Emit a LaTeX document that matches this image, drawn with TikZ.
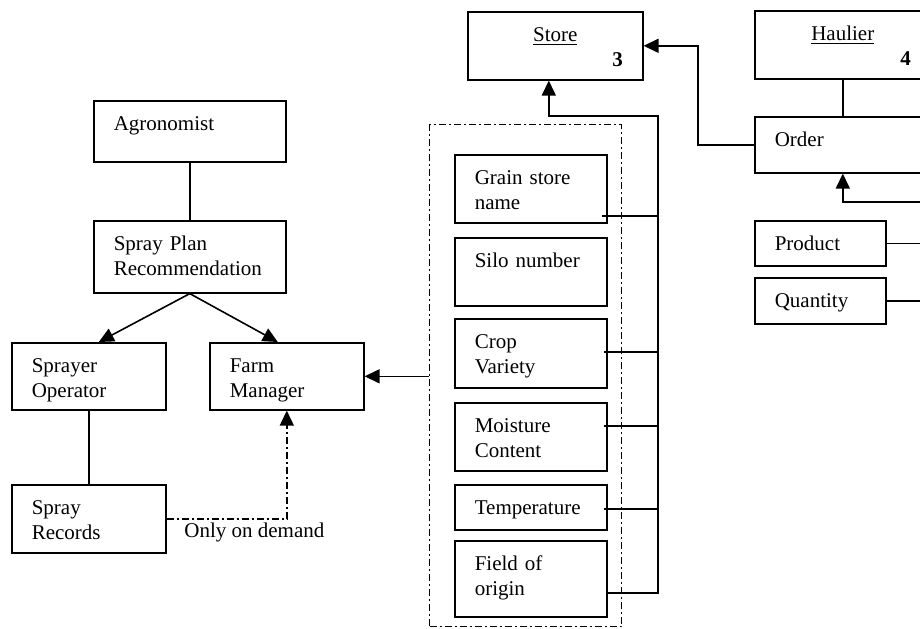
\documentclass[tikz,border=0pt]{standalone}
\usepackage{fontspec}
\setmainfont{Liberation Serif}
\usetikzlibrary{arrows.meta}

\tikzset{
  box/.style={draw, line width=0.8pt, anchor=north west, align=left,
    inner xsep=10pt, inner ysep=7.5pt, text height=7.2pt, text depth=#1},
  box/.default=11.8pt,
  attr/.style={box=#1, text width=56pt},
  attr/.default=11.8pt,
  link/.style={line width=0.8pt},
  dashdot/.style={line width=0.7pt, dash pattern=on 3.5pt off 1.5pt on 1pt off 1.5pt},
  group/.style={draw, dashdot, anchor=north west, inner sep=0pt},
}

\begin{document}
\begin{tikzpicture}[x=0.5pt, y=-0.5pt, font=\fontsize{10.5pt}{12.5pt}\selectfont,
    >={Triangle[length=7.5pt,width=7pt]}]
  \useasboundingbox (0,0) rectangle (920,628);
  \clip (0,0) rectangle (920,628);

  % spraying side
  \node [box=8.3pt, text width=76pt] (agronomist) at (93,100) {Agronomist};
  \node [box=13.8pt, text width=76pt] (plan) at (93,220) {Spray Plan\\Recommendation};
  \node [box=11.3pt, text width=57pt] (operator) at (11,342) {Sprayer\\Operator};
  \node [box=11.3pt, text width=57pt] (manager) at (209,342) {Farm\\Manager};
  \node [box, text width=57pt] (records) at (11,484) {Spray\\Records};

  \draw [link] (agronomist) -- (plan);
  \draw [link, ->] (plan.south) -- ([xshift=5pt]operator.north);
  \draw [link, ->] (plan.south) -- ([xshift=-4.5pt]manager.north);
  \draw [link] (operator) -- (records);
  \draw [dashdot, ->] (records.east) -| (manager.south);
  \node [anchor=north west, inner sep=0pt] (demand) at (184,523) {Only on demand};

  % grain store record
  \node [group, minimum width=96pt, minimum height=251pt] (attrs) at (429,124) {};
  \node [attr] (grain) at (454,154) {Grain store\\name};
  \node [attr] (silo) at (454,237) {Silo number};
  \node [attr=12.3pt] (crop) at (454,318) {Crop\\Variety};
  \node [attr] (moisture) at (454,402) {Moisture\\Content};
  \node [attr=0.3pt] (temp) at (454,484) {Temperature};
  \node [attr=15.8pt] (field) at (454,540) {Field of\\origin};

  \draw [link, ->] (attrs.west |- manager.east) -- (manager.east);

  % store and haulier
  \node [box, text width=67.5pt, align=center] (store) at (467,11) {\underline{Store}\\\hfill\textbf{3}};
  \node [box, text width=68pt, align=center] (haulier) at (754,10) {\underline{Haulier}\\\hfill\textbf{4}};
  \node [box=5.8pt, text width=68pt] (order) at (754,116) {Order};
  \node [box=0.3pt, text width=45.5pt] (product) at (754,220) {Product};
  \node [box=0.8pt, text width=45.5pt] (quantity) at (754,277) {Quantity};

  % links into the store
  \coordinate (bus) at (658,116);
  \coordinate (grainend) at ([xshift=-3pt,yshift=-13.5pt]grain.east);
  \coordinate (cropend) at ([xshift=-2pt,yshift=0.75pt]crop.east);
  \coordinate (moistend) at ([xshift=-2pt,yshift=5.5pt]moisture.east);
  \coordinate (tempend) at ([xshift=-2pt,yshift=-0.75pt]temp.east);
  \coordinate (fieldend) at ([yshift=-7pt]field.east);

  \draw [link] (grainend) -- (grainend -| bus);
  \draw [link] (cropend) -- (cropend -| bus);
  \draw [link] (moistend) -- (moistend -| bus);
  \draw [link] (tempend) -- (tempend -| bus);
  \draw [link, ->] (fieldend) -| (bus) -| ([xshift=-3.25pt]store.south);

  \coordinate (turn) at (698,0);
  \draw [link, ->] (order.west) -| (turn |- store.east) -- (store.east);
  \draw [link] (haulier) -- (order);

  \coordinate (feed) at (940,202);
  \draw [link, ->] (feed) -| (order.south);
  \draw [link] (product.east) -- (product.east -| feed);
  \draw [link] (quantity.east) -- (quantity.east -| feed);
\end{tikzpicture}
\end{document}
